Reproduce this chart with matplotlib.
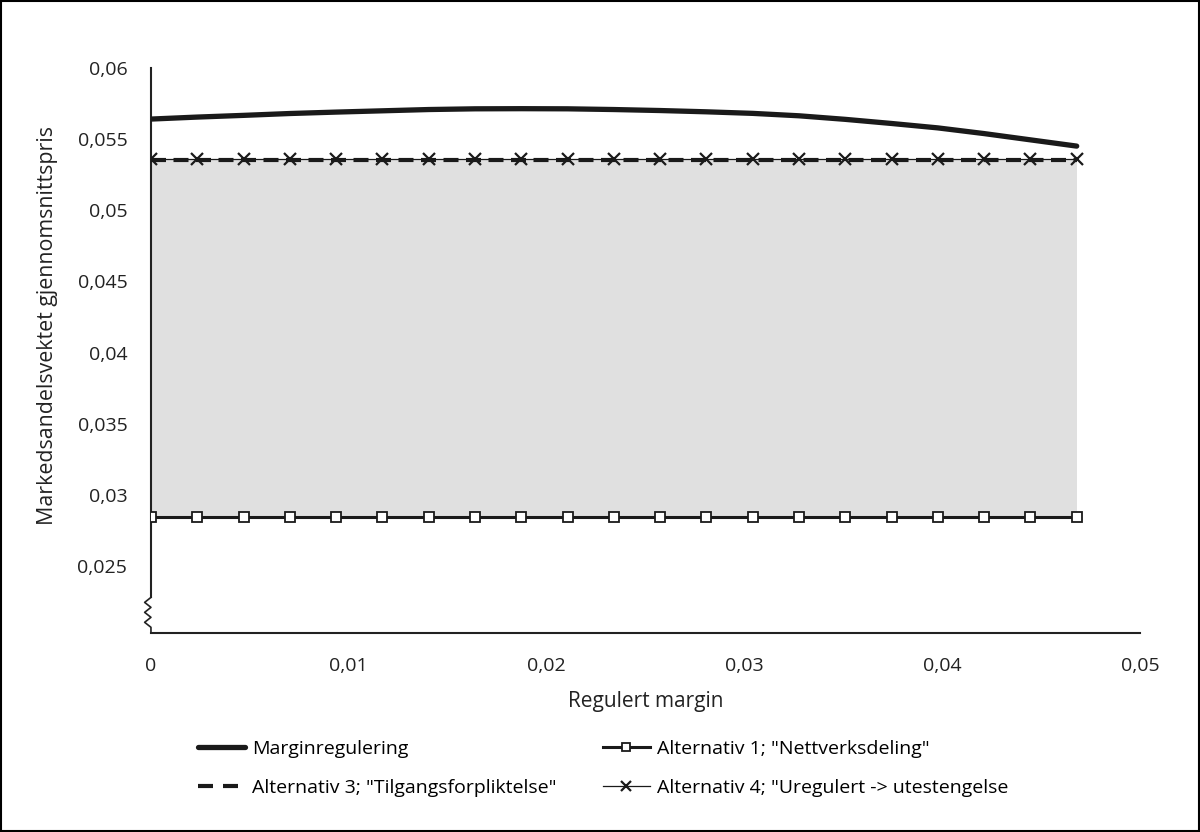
import matplotlib
matplotlib.use("Agg")
import matplotlib.pyplot as plt
import numpy as np
from matplotlib.patches import Rectangle
from matplotlib.lines import Line2D
from matplotlib.ticker import FuncFormatter

plt.rcParams['font.family'] = ['Open Sans', 'DejaVu Sans']

# data
margin = [i * 0.00234 for i in range(21)]
marginregulering = [0.05641, 0.05655, 0.05667, 0.05680, 0.05690, 0.05699, 0.05708,
                    0.05713, 0.05714, 0.05713, 0.05708, 0.05701, 0.05692, 0.05681,
                    0.05664, 0.05639, 0.05610, 0.05579, 0.05539, 0.05495, 0.05451]
alt1 = [0.02843] * 21
alt3 = [0.05350] * 21
alt4 = [0.05360] * 21

labels = ['Marginregulering', 'Alternativ 1; "Nettverksdeling"',
          'Alternativ 3; "Tilgangsforpliktelse"', 'Alternativ 4; "Uregulert -> utestengelse']

fig = plt.figure(figsize=(12, 8.32), dpi=100)
ax = fig.add_axes([0.1258, 0.2392, 0.8242, 0.6791])

ax.fill_between(margin, alt1, alt3, color='#e0e0e0', lw=0, zorder=1)
l_m, = ax.plot(margin, marginregulering, color='#1a1a1a', lw=3.8, zorder=5,
               solid_capstyle='round')
l_1, = ax.plot(margin, alt1, color='#1a1a1a', lw=2.2, marker='s', ms=7,
               mfc='white', mec='#1a1a1a', mew=1.3, zorder=4)
ax.plot(margin, alt3, color='#1a1a1a', lw=3.0, ls=(0, (3.6, 1.8)), zorder=3)
l_4, = ax.plot(margin, alt4, color='#1a1a1a', lw=0.9, marker='x', ms=8, mew=1.6, zorder=4)
# legend proxy for the dashed line (two dashes as in the original legend)
l_3 = Line2D([], [], color='#1a1a1a', lw=3.0, ls=(0, (3.6, 2.4)))

ax.set_xlim(0, 0.05)
ax.set_ylim(0.0203, 0.06)
ax.set_xticks(np.arange(0, 0.0501, 0.01))
ax.set_yticks(np.arange(0.025, 0.0601, 0.005))
fmt = FuncFormatter(lambda v, p: ('%g' % round(v, 4)).replace('.', ','))
ax.xaxis.set_major_formatter(fmt)
ax.yaxis.set_major_formatter(fmt)
ax.tick_params(length=0, labelsize=14, colors='#222222')
ax.tick_params(axis='x', pad=17)
ax.tick_params(axis='y', pad=17)

for s in ['top', 'right', 'left']:
    ax.spines[s].set_visible(False)
ax.spines['bottom'].set_color('#222222')
ax.spines['bottom'].set_linewidth(1.5)

# y axis with break squiggle near the bottom
ax.plot([0, 0], [0.0228, 0.06], color='#222222', lw=1.5, clip_on=False)
zx = [0, -0.00032, 0, -0.00032, 0, -0.00032, 0, 0]
zy = [0.0228, 0.02245, 0.0221, 0.02175, 0.0214, 0.02105, 0.0207, 0.0203]
ax.plot(zx, zy, color='#222222', lw=1.2, clip_on=False)

ax.set_xlabel('Regulert margin', fontsize=15, labelpad=12, color='#222222')
ax.set_ylabel('Markedsandelsvektet gjennomsnittspris', fontsize=15.4, color='#222222')
ax.yaxis.set_label_coords(-0.094, 0.545)

fig.legend([l_m, l_3, l_1, l_4], [labels[0], labels[2], labels[1], labels[3]],
           ncol=2, loc='center', bbox_to_anchor=(0.5025, 0.0765), frameon=False,
           fontsize=14, handlelength=2.42, handletextpad=0.36, columnspacing=2.4,
           labelspacing=1.1, markerscale=0.9)

fig.patches.append(Rectangle((0.001, 0.001), 0.998, 0.998, transform=fig.transFigure,
                             fill=False, ec='black', lw=1.5))

fig.savefig('out.png', dpi=100)
